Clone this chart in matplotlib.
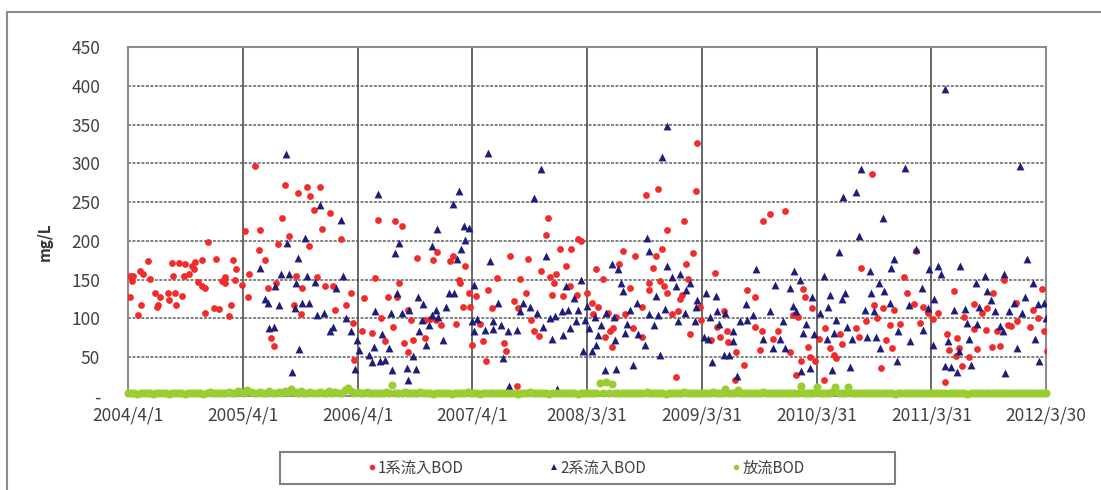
import datetime as dt
import matplotlib
matplotlib.use("Agg")
import matplotlib.pyplot as plt
from matplotlib.lines import Line2D
from matplotlib.patches import Rectangle

# ---- data (days since 2004/4/1, BOD in mg/L) ----
start_date = dt.date(2004, 4, 1)

red_days = [
    6, 17, 12, 38, 49, 65, 70, 6, 41, 31, 86, 102, 97, 92, 127, 129, 150, 152, 173, 139,
    161, 182, 203, 214, 235, 142, 177, 193, 209, 222, 235, 246, 254, 280, 244, 272, 288, 299, 310, 307,
    333, 342, 339, 363, 382, 329, 322, 384, 403, 371,
    499, 541, 570, 580, 612, 591, 641, 490, 421, 511, 418, 435, 477, 575, 618, 676, 445, 471, 535, 554,
    602, 626, 652, 708, 527, 549, 660, 694, 456, 463, 715, 719, 750, 786, 796, 804, 745, 775, 817, 828,
    850, 871, 918, 969, 982, 1024, 1033, 1073, 1215, 1054, 1056, 863, 857, 1084, 1107, 1144, 1173, 1247, 1067, 1088,
    1158, 1229, 892, 900, 843, 945, 960, 979, 995, 1043, 1120, 878, 907, 945, 892, 1094, 1130, 1197, 1201, 1139, 1237,
    1647, 1336, 1329, 1432, 1442, 1375, 1410, 1272, 1573, 1612, 1562, 1392, 1315, 1488, 1341, 1360, 1354, 1511, 1405, 1596,
    1658, 1265, 1350, 1384, 1428, 1460, 1477, 1495, 1580, 1634, 1240, 1283, 1480, 1527, 1552, 1607, 1293, 1307, 1517, 1533,
    1543, 1538, 1634,
    1809, 1686, 1806, 1768, 1713, 2021, 2042, 1798, 1697, 1679, 1670, 1774, 1867, 1782, 1691, 1704, 1715, 1658, 1761, 1755,
    1968, 1994, 1729, 1750, 1819, 1896, 1824, 1872, 1904, 1787, 1856, 1883, 1994, 2016, 2051, 1934, 1959, 1743, 1931, 1909,
    2010,
    2367, 2091, 2332, 2468, 2479, 2147, 2154, 2176, 2115, 2130, 2372, 2402, 2438, 2349, 2383, 2425, 2455, 2218, 2266, 2317,
    2324, 2410, 2431, 2069, 2107, 2162, 2197, 2232, 2245, 2271, 2168, 2186, 2141, 2126, 2213, 2394, 2253,
    2506, 2787, 2906, 2626, 2753, 2500, 2692, 2824, 2530, 2575, 2732, 2878, 2545, 2660, 2715, 2894, 2798, 2828, 2559, 2519,
    2692, 2729, 2764, 2808, 2870, 2913, 2604, 2638, 2612, 2644, 2702, 2747, 2775, 2923, 2633, 2676, 2654, 2598,
]
red_vals = [
    155, 154, 148, 161, 157, 174, 151, 128, 117, 104, 133, 127, 117, 114, 133, 124, 133, 117, 129, 171,
    171, 170, 167, 173, 175, 154, 155, 157, 163, 147, 141, 139, 199, 177, 107, 113, 112, 148, 153, 146,
    175, 164, 150, 143, 128, 117, 103, 157, 297, 213,
    272, 262, 270, 258, 270, 240, 236, 230, 214, 206, 188, 175, 196, 193, 215, 203, 139, 145, 155, 139,
    153, 141, 141, 133, 117, 106, 111, 117, 74, 64, 94, 46, 126, 152, 227, 100, 84, 81, 70, 128,
    226, 219, 178, 175, 185, 174, 180, 167, 181, 150, 145, 145, 128, 132, 129, 136, 152, 151, 115, 115,
    113, 122, 110, 98, 89, 98, 99, 98, 91, 93, 93, 68, 72, 75, 56, 65, 71, 68, 58, 45, 13,
    259, 229, 207, 203, 200, 190, 190, 177, 187, 181, 170, 167, 161, 163, 153, 157, 146, 151, 141, 139,
    145, 133, 130, 129, 130, 133, 120, 115, 106, 115, 113, 98, 106, 107, 102, 87, 84, 77, 76, 84,
    88, 63, 76,
    326, 267, 264, 225, 214, 226, 235, 184, 189, 181, 165, 170, 159, 151, 148, 141, 133, 136, 130, 125,
    137, 128, 106, 109, 115, 109, 98, 89, 84, 80, 72, 76, 89, 83, 73, 56, 40, 24, 20, 69,
    59,
    287, 239, 165, 153, 132, 138, 127, 113, 104, 101, 117, 113, 110, 96, 100, 91, 93, 87, 80, 87,
    76, 72, 61, 83, 56, 63, 73, 61, 52, 67, 50, 45, 45, 26, 20, 36, 48,
    187, 149, 138, 135, 132, 119, 119, 120, 115, 107, 113, 111, 107, 102, 107, 100, 91, 96, 99, 94,
    86, 85, 84, 90, 89, 84, 80, 75, 59, 61, 60, 63, 64, 58, 51, 50, 38, 17,
]

blue_days = [
    501, 612, 676, 796, 421, 562, 506, 541, 488, 511, 570, 594, 533, 469, 683, 662, 435, 445, 479, 554,
    575, 530, 602, 623, 450, 463, 692, 652, 644, 708, 545, 522, 729, 735, 766, 782, 807, 775, 800, 817,
    722, 786,
    1144, 1054, 1033, 982, 1070, 1084, 863, 850, 967, 1073, 1059, 1045, 1152, 1102, 857, 1020, 1038, 921, 939, 1013,
    1176, 836, 871, 894, 979, 967, 935, 956, 926, 985, 1003, 948, 829, 1094, 1109, 1099, 1134, 1160, 1162, 1187,
    1208, 1237, 1192, 905, 841, 886, 916, 892, 1213,
    1315, 1293, 1329, 1650, 1658, 1538, 1559, 1442, 1392, 1418, 1567, 1573, 1618, 1256, 1278, 1301, 1246, 1379, 1400, 1432,
    1460, 1341, 1357, 1426, 1453, 1485, 1522, 1545, 1596, 1506, 1467, 1588, 1320, 1405, 1384, 1495, 1580, 1623, 1350, 1549,
    1644, 1488, 1448, 1477, 1517, 1552, 1607, 1363,
    1716, 1697, 1715, 1729, 1755, 1743, 1789, 1679, 1776, 1838, 1870, 1999, 2058, 1811, 1966, 1707, 1658, 1686, 1771, 1806,
    1851, 1874, 1899, 2042, 1989, 1672, 1750, 1803, 1881, 1947, 1968, 1832, 1846, 1923, 2021, 2051, 1692, 1859, 1896, 1913,
    1938, 1925,
    2332, 2470, 2274, 2317, 2402, 2324, 2261, 2436, 2428, 2360, 2119, 2136, 2213, 2107, 2388, 2232, 2282, 2271, 2176, 2362,
    2406, 2425, 2115, 2126, 2226, 2343, 2372, 2484, 2083, 2200, 2253, 2158, 2287, 2147, 2183, 2247, 2303, 2351, 2378, 2449,
    2487, 2075, 2091, 2223, 2391, 2445, 2168, 2239, 2296, 2141,
    2838, 2600, 2506, 2860, 2548, 2577, 2585, 2647, 2726, 2787, 2697, 2878, 2524, 2732, 2853, 2564, 2745, 2819, 2894, 2913,
    2545, 2626, 2662, 2708, 2758, 2803, 2843, 2920, 2668, 2702, 2775, 2530, 2782, 2562, 2609, 2676, 2885, 2828, 2899, 2644,
    2681, 2598, 2619, 2638, 2789,
]
blue_vals = [
    312, 246, 227, 260, 165, 204, 197, 178, 157, 157, 155, 147, 145, 141, 154, 139, 125, 120, 117, 120,
    120, 113, 104, 107, 87, 89, 100, 89, 83, 83, 60, 30, 72, 59, 52, 63, 80, 43, 45, 46,
    34, 109,
    314, 265, 248, 215, 219, 216, 197, 184, 193, 201, 189, 177, 174, 143, 133, 133, 132, 127, 119, 114,
    120, 107, 107, 110, 111, 104, 98, 91, 84, 102, 72, 65, 62, 96, 99, 83, 85, 96, 86, 91,
    83, 85, 48, 51, 33, 36, 34, 20, 13,
    293, 255, 181, 204, 187, 170, 164, 150, 141, 126, 146, 135, 120, 120, 115, 107, 109, 109, 111, 110,
    116, 100, 103, 97, 98, 102, 107, 102, 110, 91, 87, 93, 89, 87, 78, 78, 81, 80, 73, 72,
    66, 65, 58, 58, 33, 35, 40, 9,
    348, 309, 168, 153, 157, 141, 145, 129, 136, 132, 129, 164, 143, 123, 119, 112, 106, 104, 107, 114,
    102, 109, 107, 109, 104, 91, 96, 96, 93, 96, 98, 76, 73, 70, 73, 62, 52, 43, 52, 52,
    25, 83,
    293, 294, 257, 263, 230, 206, 185, 176, 165, 161, 161, 149, 154, 139, 146, 130, 133, 125, 128, 133,
    135, 120, 116, 109, 115, 110, 109, 117, 97, 107, 98, 93, 89, 81, 80, 81, 73, 76, 76, 83,
    70, 73, 61, 73, 62, 45, 36, 33, 37, 32,
    297, 396, 190, 176, 164, 167, 157, 168, 155, 157, 145, 146, 139, 135, 128, 125, 124, 120, 119, 120,
    113, 110, 112, 115, 109, 109, 107, 100, 94, 93, 90, 85, 83, 66, 70, 73, 73, 61, 45, 58,
    40, 38, 37, 30, 29,
]

# effluent BOD, one sample every green_step days from start_date
green_step = 10
green_vals = [
    3, 4, 3, 2, 4, 3, 3, 4, 2, 3, 4, 3, 3, 2, 4, 3, 4, 3, 2, 3,
    4, 3, 3, 4, 2, 3, 5, 3, 4, 3, 3, 4, 5, 3, 4, 6, 5, 4, 7, 5,
    4, 3, 5, 4, 3, 6, 4, 3, 5, 4, 6, 5, 9, 5, 4, 6, 4, 3, 5, 4,
    4, 5, 3, 4, 6, 4, 5, 3, 4, 7, 10, 6, 4, 5, 3, 4, 5, 3, 4, 3,
    4, 3, 5, 4, 14, 4, 3, 4, 5, 3, 4, 3, 4, 5, 3, 4, 3, 2, 4, 3,
    3, 4, 3, 2, 4, 3, 4, 3, 5, 3, 4, 3, 2, 4, 3, 3, 4, 3, 4, 3,
    3, 4, 3, 4, 2, 3, 4, 3, 5, 3, 4, 3, 4, 3, 2, 4, 3, 4, 3, 4,
    3, 4, 3, 2, 4, 3, 4, 3, 4, 3, 16, 4, 18, 4, 15, 4, 3, 4, 3, 4,
    3, 4, 3, 4, 3, 5, 3, 4, 3, 4, 3, 2, 4, 3, 4, 3, 4, 5, 3, 4,
    3, 4, 3, 4, 3, 4, 5, 3, 4, 3, 8, 4, 3, 4, 7, 4, 3, 4, 3, 4,
    3, 4, 5, 3, 4, 3, 4, 3, 4, 3, 4, 3, 4, 3, 12, 4, 3, 4, 3, 11,
    4, 3, 4, 3, 5, 11, 4, 3, 4, 11, 4, 3, 4, 3, 4, 3, 4, 3, 4, 3,
    4, 3, 4, 3, 2, 4, 3, 4, 3, 4, 3, 4, 3, 4, 3, 4, 3, 4, 3, 4,
    3, 4, 3, 4, 3, 4, 3, 2, 4, 3, 4, 3, 4, 3, 4, 3, 4, 3, 4, 3,
    4, 3, 4, 3, 4, 3, 4, 3, 4, 3, 4, 3, 4,
]

series_names = ["1系流入BOD", "2系流入BOD", "放流BOD"]
x_tick_labels = ["2004/4/1", "2005/4/1", "2006/4/1", "2007/4/1", "2008/3/31",
                 "2009/3/31", "2010/3/31", "2011/3/31", "2012/3/30"]
y_ticks = [0, 50, 100, 150, 200, 250, 300, 350, 400, 450]
y_tick_labels = ["-", "50", "100", "150", "200", "250", "300", "350", "400", "450"]
y_label = "mg/L"

# ---- styling ----
RED = "#F22B2B"
BLUE = "#1E1E78"
GREEN = "#9ACD32"
TEXT = "#404040"
FONT = ["Noto Sans CJK JP", "DejaVu Sans"]
plt.rcParams["font.family"] = FONT


def label_to_day(label):
    y, m, d = (int(p) for p in label.split("/"))
    return (dt.date(y, m, d) - start_date).days


x_ticks = [label_to_day(s) for s in x_tick_labels]
green_days = [i * green_step for i in range(len(green_vals))]

W, H = 1101, 490
fig = plt.figure(figsize=(W / 100, H / 100), dpi=100)
fig.patch.set_facecolor("white")

# outer chart frame (runs off the right and bottom edges)
fig.patches.append(Rectangle((7 / W, -0.2), 1.2, (H - 12) / H + 0.2,
                             transform=fig.transFigure, fill=False,
                             edgecolor="#8C8C8C", lw=1.5))

ax = fig.add_axes([128 / W, (H - 395.6) / H, 918 / W, (395.6 - 47.4) / H])
ax.set_xlim(0, x_ticks[-1])
ax.set_ylim(0, 450)

# grid: dotted horizontals, solid verticals at year ticks
for v in y_ticks[1:-1]:
    ax.axhline(v, color="#808080", lw=1.4, ls=(0, (1.5, 0.8)), zorder=1)
for d in x_ticks[1:-1]:
    ax.axvline(d, color="#5A5A5A", lw=1.3, zorder=1)

ax.scatter(red_days, red_vals, s=24, marker="o", color=RED, linewidths=0, zorder=3)
ax.scatter(blue_days, blue_vals, s=32, marker="^", color=BLUE, linewidths=0, zorder=4)
ax.scatter(green_days, green_vals, s=34, marker="o", color=GREEN, linewidths=0,
           zorder=5, clip_on=False)

for sp in ax.spines.values():
    sp.set_color("#8C8C8C")
    sp.set_linewidth(1.5)

ax.set_xticks(x_ticks)
ax.set_xticklabels(x_tick_labels)
ax.set_yticks(y_ticks)
ax.set_yticklabels(y_tick_labels)
ax.tick_params(axis="both", length=0, labelsize=12.5, labelcolor=TEXT)
ax.tick_params(axis="y", pad=20)
ax.tick_params(axis="x", pad=8)
# the zero label is a plain dash; a compact font keeps its box off the date labels
ax.get_yticklabels()[0].set_fontfamily("DejaVu Sans")

fig.text(45 / W, (H - 242) / H, y_label, rotation=90, ha="center", va="center",
         fontsize=11, fontweight="bold", color="#333333")

# legend box and entries
fig.patches.append(Rectangle((280 / W, (H - 484) / H), 615 / W, 32 / H,
                             transform=fig.transFigure, fill=False,
                             edgecolor="#808080", lw=1.5))
handles = [
    Line2D([], [], ls="none", marker="o", color=RED, markersize=4, markeredgewidth=0),
    Line2D([], [], ls="none", marker="^", color=BLUE, markersize=5, markeredgewidth=0),
    Line2D([], [], ls="none", marker="o", color=GREEN, markersize=4, markeredgewidth=0),
]
leg = fig.legend(handles, series_names, loc="center", bbox_to_anchor=(586 / W, (H - 468) / H),
                 ncol=3, frameon=False, fontsize=11, handlelength=0.6, handletextpad=0.1,
                 columnspacing=5.6, borderpad=0)
for t in leg.get_texts():
    t.set_color(TEXT)

fig.savefig("out.png", dpi=100, facecolor="white")
